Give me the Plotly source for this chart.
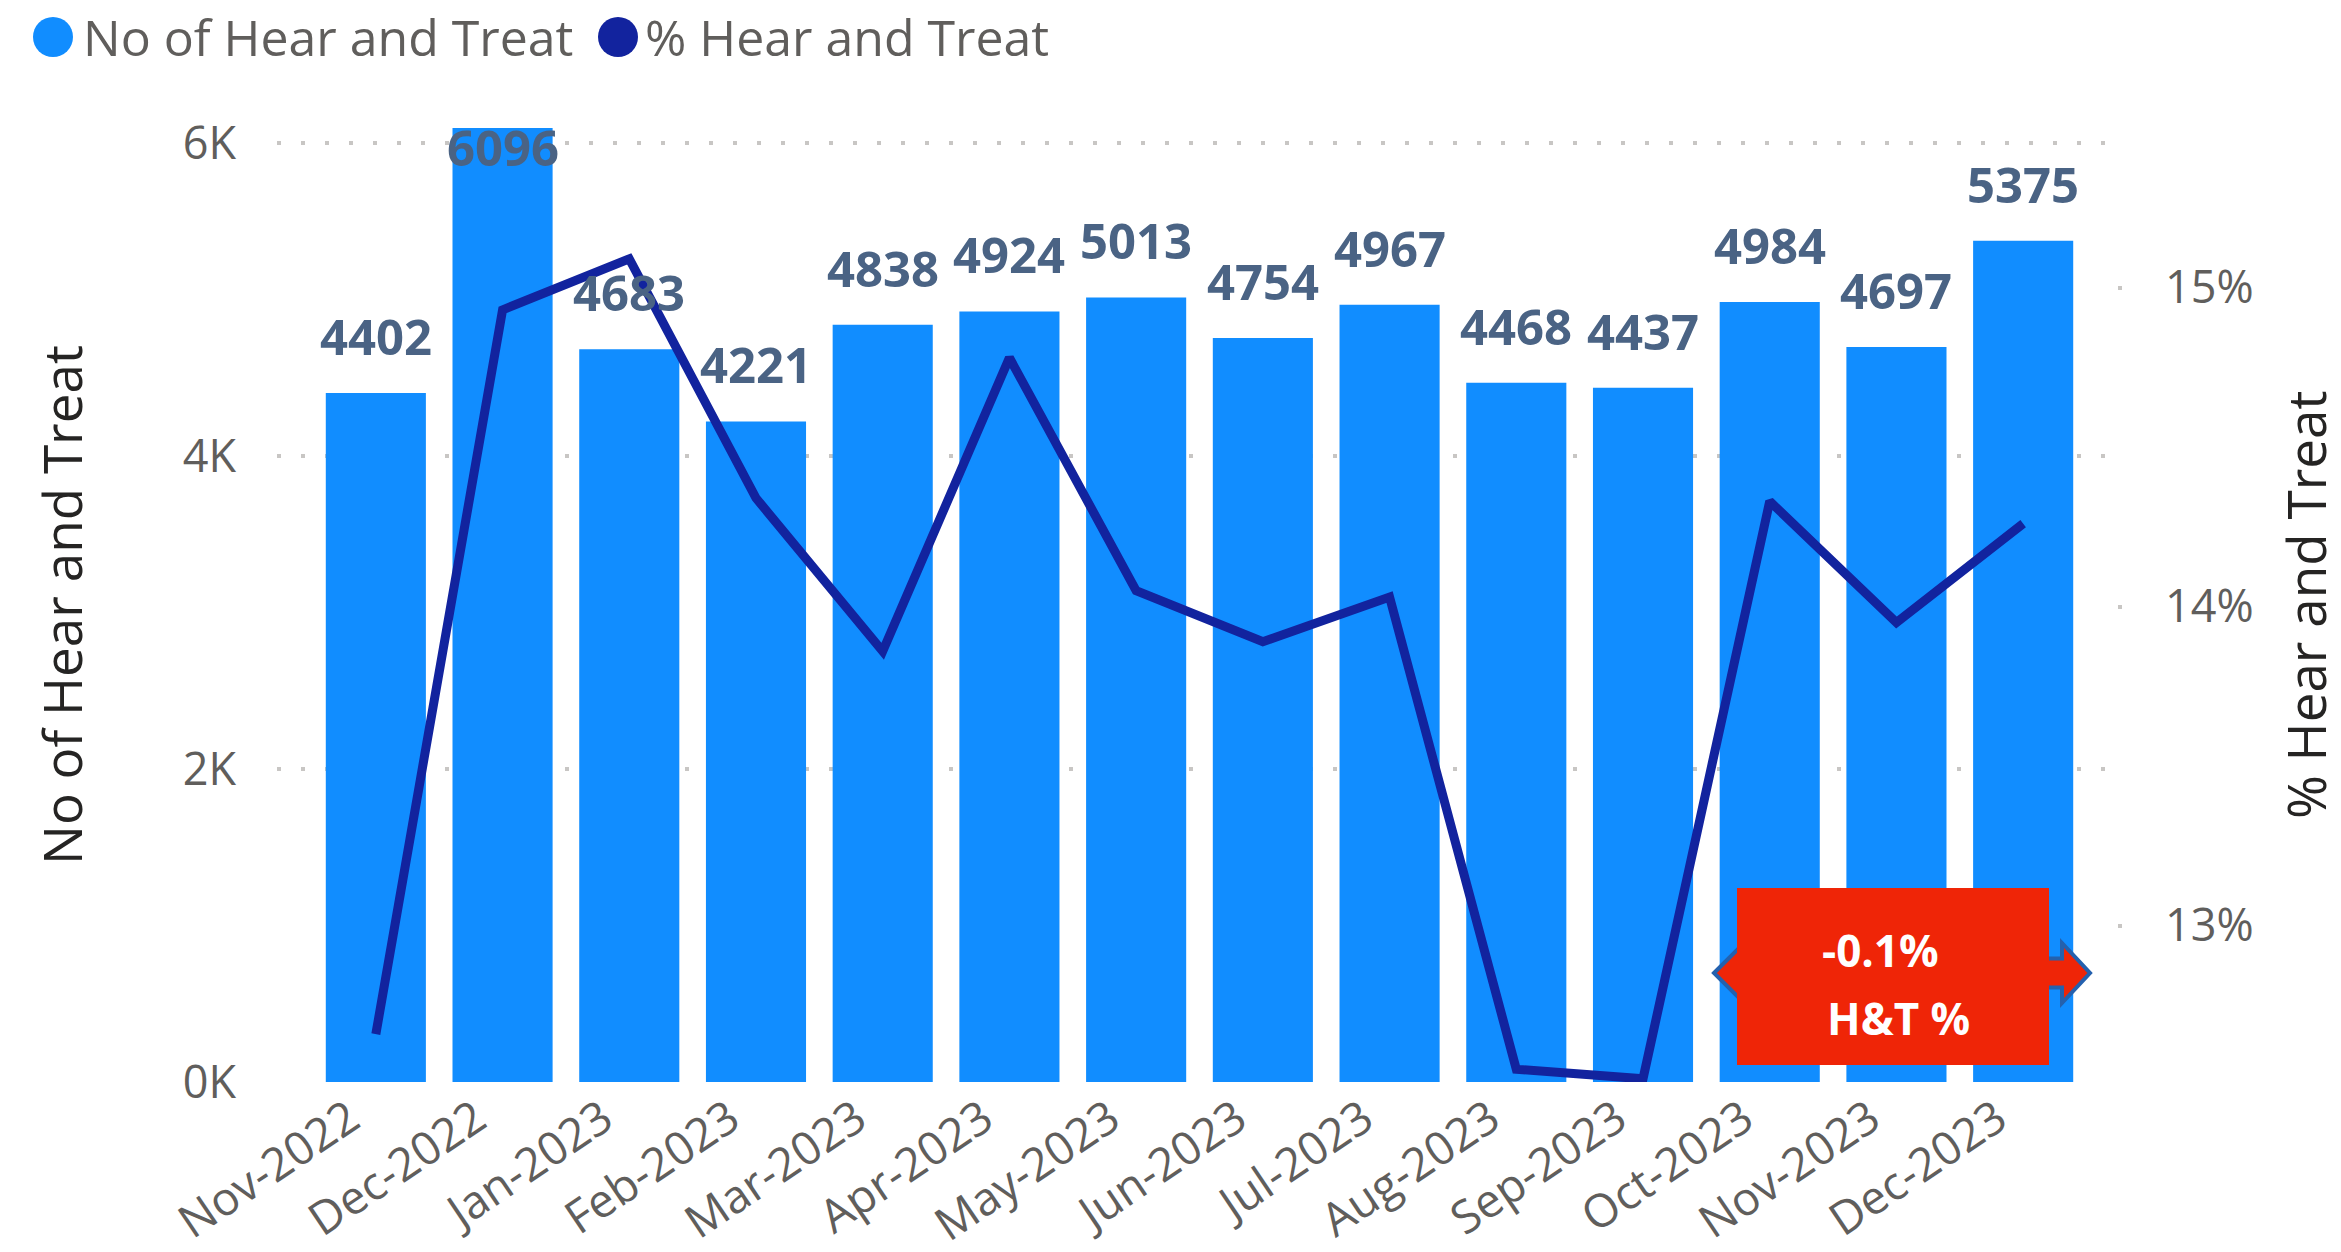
import plotly.graph_objects as go

# ---------------- data ----------------
months = ["Nov-2022", "Dec-2022", "Jan-2023", "Feb-2023", "Mar-2023", "Apr-2023", "May-2023",
          "Jun-2023", "Jul-2023", "Aug-2023", "Sep-2023", "Oct-2023", "Nov-2023", "Dec-2023"]
hear_treat_count = [4402, 6096, 4683, 4221, 4838, 4924, 5013, 4754, 4967, 4468, 4437, 4984, 4697, 5375]
hear_treat_pct = [12.66, 14.93, 15.09, 14.34, 13.86, 14.78, 14.05, 13.89, 14.03, 12.55, 12.52, 14.33, 13.95, 14.26]
series_names = ["No of Hear and Treat", "% Hear and Treat"]
count_tick_vals = [0, 2000, 4000, 6000]
count_tick_text = ["0K", "2K", "4K", "6K"]
pct_tick_vals = [13, 14, 15]
pct_tick_text = ["13%", "14%", "15%"]
kpi_value = "-0.1%"
kpi_label = "H&T %"

# ---------------- style ----------------
W, H = 2341, 1252
PL, PR, PT, PB = 277, 2122, 128, 1082
BAR_COLOR = "#118DFF"
LINE_COLOR = "#12239E"
LABEL_COLOR = "#4A6384"
TICK_COLOR = "#605E5C"
TITLE_COLOR = "#252423"
GRID_COLOR = "#C8C6C4"
KPI_RED = "#EF2507"
FONT = "Open Sans, Noto Sans, sans-serif"


def fx(px):
    return (px - PL) / (PR - PL)


def fy(py):
    return (PB - py) / (PB - PT)


fig = go.Figure()
fig.add_trace(go.Bar(
    x=months, y=hear_treat_count, name=series_names[0],
    marker=dict(color=BAR_COLOR, line=dict(width=0)),
    showlegend=False,
))
fig.add_trace(go.Scatter(
    x=months, y=hear_treat_pct, name=series_names[1], yaxis="y2",
    mode="lines", line=dict(color=LINE_COLOR, width=9),
    showlegend=False,
))

annotations = []
# data labels
max_count = max(hear_treat_count)
for m, v in zip(months, hear_treat_count):
    inside = v == max_count
    annotations.append(dict(
        x=m, y=v, xref="x", yref="y", text=str(v), showarrow=False,
        yanchor="top" if inside else "bottom",
        yshift=16 if inside else 22,
        font=dict(family=FONT, size=49, color=LABEL_COLOR, weight="bold"),
    ))

# axis titles
annotations.append(dict(x=fx(61), y=0.5, xref="paper", yref="paper", text=series_names[0],
                        textangle=-90, showarrow=False, xanchor="center", yanchor="middle",
                        font=dict(family=FONT, size=53, color=TITLE_COLOR)))
annotations.append(dict(x=fx(2305), y=0.5, xref="paper", yref="paper", text=series_names[1],
                        textangle=-90, showarrow=False, xanchor="center", yanchor="middle",
                        font=dict(family=FONT, size=53, color=TITLE_COLOR)))

# legend (custom, circles + text)
legend_items = [(series_names[0], BAR_COLOR, 53, 81), (series_names[1], LINE_COLOR, 618, 643)]
shapes = []
for name, col, cx, tx in legend_items:
    shapes.append(dict(type="circle", xref="paper", yref="paper",
                       x0=fx(cx - 20), x1=fx(cx + 20), y0=fy(57), y1=fy(17),
                       fillcolor=col, line=dict(width=0), layer="above"))
    annotations.append(dict(x=fx(tx), y=fy(37), xref="paper", yref="paper", text=name,
                            showarrow=False, xanchor="left", yanchor="middle",
                            font=dict(family=FONT, size=50, color=TICK_COLOR)))

# KPI overlay: double arrow behind a red card
ay, hh, sh = 973, 30, 14.5
pts = [(1714, ay), (1744, ay - hh), (1744, ay - sh), (2062, ay - sh), (2062, ay - hh), (2090, ay),
       (2062, ay + hh), (2062, ay + sh), (1744, ay + sh), (1744, ay + hh)]
path = "M " + " L ".join(f"{fx(x):.5f},{fy(y):.5f}" for x, y in pts) + " Z"
shapes.append(dict(type="path", path=path, xref="paper", yref="paper",
                   fillcolor=KPI_RED, line=dict(color="#2461AE", width=4), layer="above"))
shapes.append(dict(type="rect", xref="paper", yref="paper",
                   x0=fx(1737), x1=fx(2049), y0=fy(1065), y1=fy(888),
                   fillcolor=KPI_RED, line=dict(width=0), layer="above"))
annotations.append(dict(x=fx(1880), y=fy(950), xref="paper", yref="paper", text=kpi_value,
                        showarrow=False, xanchor="center", yanchor="middle",
                        font=dict(family=FONT, size=44, color="white", weight="bold")))
annotations.append(dict(x=fx(1898), y=fy(1018), xref="paper", yref="paper", text=kpi_label,
                        showarrow=False, xanchor="center", yanchor="middle",
                        font=dict(family=FONT, size=44, color="white", weight="bold")))

fig.update_layout(
    width=W, height=H,
    margin=dict(l=PL, r=W - PR, t=PT, b=H - PB, pad=0, autoexpand=False),
    paper_bgcolor="white", plot_bgcolor="white",
    font=dict(family=FONT, color=TICK_COLOR),
    bargap=0.21,
    showlegend=False,
    xaxis=dict(
        type="category", range=[-0.78, 13.78], automargin=False,
        showgrid=False, zeroline=False, showline=False, ticks="",
        tickangle=-34, ticklabelshift=-26, ticklabelstandoff=0,
        tickfont=dict(family=FONT, size=46, color=TICK_COLOR),
    ),
    yaxis=dict(
        range=[0, max_count], tickvals=count_tick_vals, ticktext=count_tick_text,
        automargin=False,
        showgrid=True, gridcolor=GRID_COLOR, gridwidth=4, griddash="4px,20px",
        zeroline=False, showline=False, ticks="",
        ticklabelstandoff=40,
        tickfont=dict(family=FONT, size=45, color=TICK_COLOR),
    ),
    yaxis2=dict(
        overlaying="y", side="right", range=[12.51, 15.5], automargin=False,
        tickvals=pct_tick_vals, ticktext=pct_tick_text,
        showgrid=False, zeroline=False, showline=False,
        ticks="inside", ticklen=4, tickwidth=4, tickcolor=GRID_COLOR,
        ticklabelstandoff=42,
        tickfont=dict(family=FONT, size=45, color=TICK_COLOR),
    ),
    shapes=shapes,
    annotations=annotations,
)

fig.write_html(
    "out.html",
    config={"displayModeBar": False},
    post_script="document.body.style.margin='0';document.body.style.overflow='hidden';",
)
